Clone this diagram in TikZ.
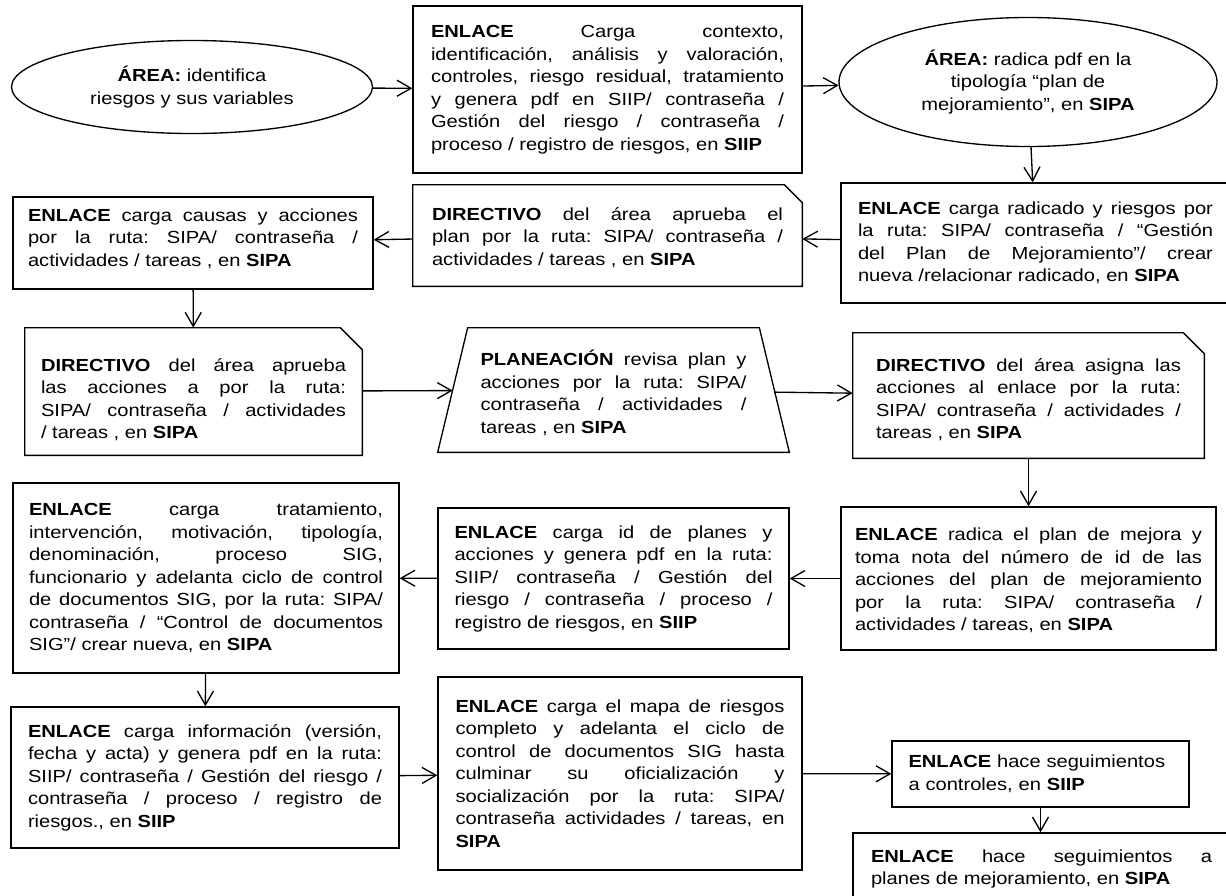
\documentclass[tikz,border=0pt]{standalone}
\usepackage{fontspec}
\setmainfont{Liberation Sans}[FakeStretch=1.15]
\usetikzlibrary{shapes.geometric,arrows.meta}
\tolerance=9999
\hbadness=10000
\frenchspacing

\begin{document}
\begin{tikzpicture}[x=0.6pt,y=-0.6pt,
    font=\fontsize{10.5}{13.5}\selectfont,
    box/.style={draw, line width=0.8pt, fill=white, align=justify, inner sep=0pt},
    oval/.style={shape=ellipse, draw, line width=0.8pt, fill=white, align=center, inner sep=0pt},
    snip/.style={align=justify, inner sep=0pt},
    flow/.style={line width=0.8pt, -{Straight Barb[length=8.4pt,width=9.6pt]}}]
      \useasboundingbox (0,0) rectangle (1226,895);
      % first row
      \node [oval, minimum width=216.6pt, minimum height=55.8pt] (A) at (192,87)
        {\textbf{ÁREA:} identifica\\riesgos y sus variables};
      \node [box, minimum width=233.4pt, minimum height=100.2pt, text width=211.8pt] (B) at (607.5,89.5)
        {\textbf{ENLACE} Carga contexto,\linebreak identificación, análisis y valoración,\linebreak controles, riesgo residual, tratamiento\linebreak y genera pdf en SIIP/ contraseña /\linebreak Gestión del riesgo / contraseña /\linebreak proceso / registro de riesgos, en \textbf{SIIP}};
      \node [oval, minimum width=226.8pt, minimum height=77.4pt] (C) at (1028,82)
        {\textbf{ÁREA:} radica pdf en la\\tipología “plan de\\mejoramiento”, en \textbf{SIPA}};
      % second row
      \node [box, minimum width=233.4pt, minimum height=72pt, text width=213pt] (D) at (1035.5,243)
        {\textbf{ENLACE} carga radicado y riesgos por\linebreak la ruta: SIPA/ contraseña / “Gestión\linebreak del Plan de Mejoramiento”/ crear\linebreak nueva /relacionar radicado, en \textbf{SIPA}};
      \node [snip, minimum width=233.4pt, minimum height=60.6pt, text width=210.6pt] (E) at (607.5,235.5)
        {\rule{0pt}{10.2pt}\textbf{DIRECTIVO} del área aprueba el\linebreak plan por la ruta: SIPA/ contraseña /\linebreak actividades / tareas , en \textbf{SIPA}};
      \node [box, minimum width=216pt, minimum height=55.2pt, text width=198pt] (F) at (193,243)
        {\textbf{ENLACE} carga causas y acciones\linebreak por la ruta: SIPA/ contraseña /\linebreak actividades / tareas , en \textbf{SIPA}\rule[-6.8pt]{0pt}{6.8pt}};
      % third row
      \node [snip, minimum width=202.2pt, minimum height=76.2pt, text width=183pt] (G) at (193.5,391.5)
        {\rule{0pt}{17.4pt}\textbf{DIRECTIVO} del área aprueba\linebreak las acciones a por la ruta:\linebreak SIPA/ contraseña / actividades\linebreak / tareas , en \textbf{SIPA}};
      \node [snip, minimum width=192.6pt, minimum height=74.4pt, text width=159.6pt] (H) at (613.5,390)
        {\rule{0pt}{12.6pt}\textbf{PLANEACIÓN} revisa plan y\linebreak acciones por la ruta: SIPA/\linebreak contraseña / actividades /\linebreak tareas , en \textbf{SIPA}};
      \node [snip, minimum width=210.6pt, minimum height=75pt, text width=183pt] (I) at (1028.5,395.5)
        {\rule{0pt}{12.6pt}\textbf{DIRECTIVO} del área asigna las\linebreak acciones al enlace por la ruta:\linebreak SIPA/ contraseña / actividades /\linebreak tareas , en \textbf{SIPA}};
      % fourth row
      \node [box, minimum width=231.6pt, minimum height=114pt, text width=212.4pt] (J) at (206,578)
        {\textbf{ENLACE} carga tratamiento,\linebreak intervención, motivación, tipología,\linebreak denominación, proceso SIG,\linebreak funcionario y adelanta ciclo de control\linebreak de documentos SIG, por la ruta: SIPA/\linebreak contraseña / “Control de documentos\linebreak SIG”/ crear nueva, en \textbf{SIPA}};
      \node [box, minimum width=210.6pt, minimum height=84.6pt, text width=190.8pt] (L) at (613.5,578.5)
        {\textbf{ENLACE} carga id de planes y\linebreak acciones y genera pdf en la ruta:\linebreak SIIP/ contraseña / Gestión del\linebreak riesgo / contraseña / proceso /\linebreak registro de riesgos, en \textbf{SIIP}};
      \node [box, minimum width=225pt, minimum height=85.8pt, text width=208.2pt] (K) at (1028.5,578.5)
        {\rule{0pt}{10.2pt}\textbf{ENLACE} radica el plan de mejora y\linebreak toma nota del número de id de las\linebreak acciones del plan de mejoramiento\linebreak por la ruta: SIPA/ contraseña /\linebreak actividades / tareas, en \textbf{SIPA}};
      % last row
      \node [box, minimum width=232.8pt, minimum height=84.6pt, text width=212.4pt] (M) at (205,777.5)
        {\textbf{ENLACE} carga información (versión,\linebreak fecha y acta) y genera pdf en la ruta:\linebreak SIIP/ contraseña / Gestión del riesgo /\linebreak contraseña / proceso / registro de\linebreak riesgos., en \textbf{SIIP}};
      \node [box, minimum width=218.4pt, minimum height=115.8pt, text width=197.4pt] (N) at (620,773.5)
        {\textbf{ENLACE} carga el mapa de riesgos\linebreak completo y adelanta el ciclo de\linebreak control de documentos SIG hasta\linebreak culminar su oficialización y\linebreak socialización por la ruta: SIPA/\linebreak contraseña actividades / tareas, en\linebreak \textbf{SIPA}};
      \node [box, align=left, minimum width=178.2pt, minimum height=39.6pt, text width=158.4pt] (O) at (1040.5,774)
        {\textbf{ENLACE} hace seguimientos\\a controles, en \textbf{SIIP}};
      \node [box, minimum width=226.2pt, minimum height=43.2pt, text width=204.6pt] (P) at (1041.5,869)
        {\textbf{ENLACE} hace seguimientos a\linebreak planes de mejoramiento, en \textbf{SIPA}};
      % boxes with a cut corner, and the trapezoid
      \foreach \n/\c in {E/10.8pt,G/13.2pt,I/12.6pt}
        \draw [line width=0.8pt] (\n.north west) -- ([xshift=-\c]\n.north east) -- ([yshift=-\c]\n.north east)
          -- (\n.south east) -- (\n.south west) -- cycle;
      \draw [line width=0.8pt] ([xshift=-9pt]H.south west) -- ([xshift=9pt]H.north west)
        -- ([xshift=-9pt]H.north east) -- ([xshift=9pt]H.south east) -- cycle;
      % connectors
      \draw [flow] (A) -- (B);
      \draw [flow] (B) -- (C);
      \draw [flow] (C) -- (D);
      \draw [flow] (D) -- (E);
      \draw [flow] (E) -- (F);
      \draw [flow] (F) -- (G);
      \draw [flow] (G) -- (H);
      \draw [flow] (H) -- (I);
      \draw [flow] (I) -- (K);
      \draw [flow] (K) -- (L);
      \draw [flow] (L) -- (J);
      \draw [flow] (J) -- (M);
      \draw [flow] (M) -- (N);
      \draw [flow] (N) -- (O);
      \draw [flow] (O) -- (O |- P.north);
    \end{tikzpicture}
\end{document}
